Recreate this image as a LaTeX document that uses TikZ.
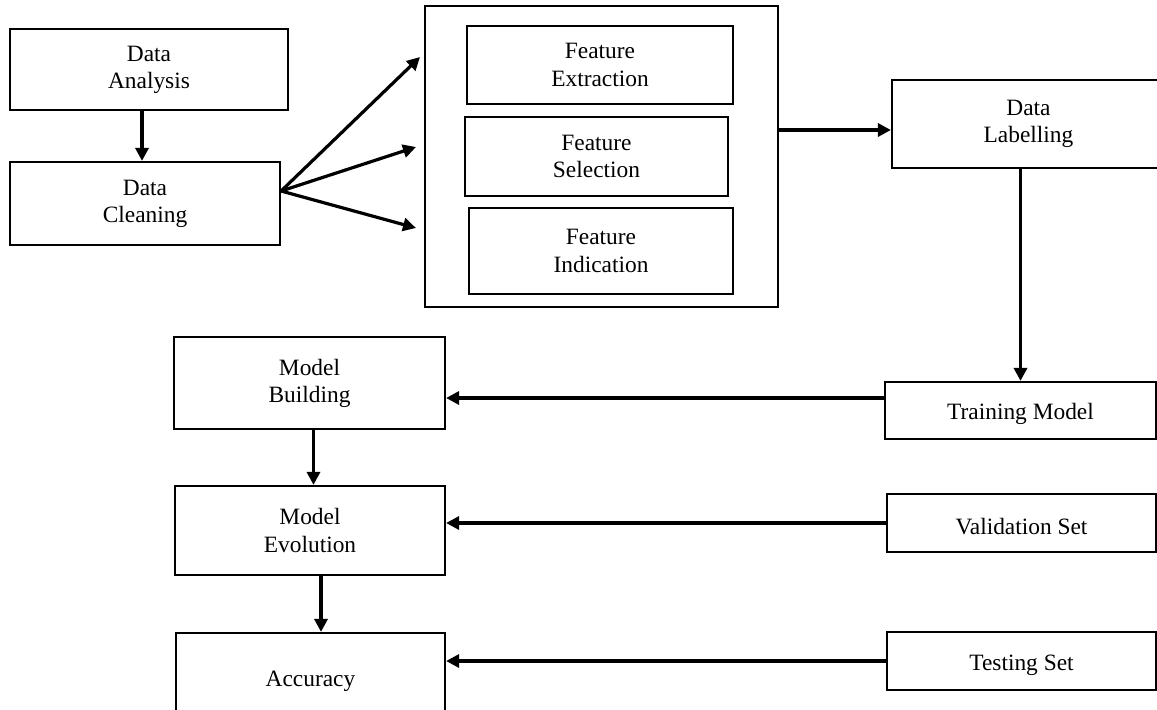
\documentclass[tikz,border=0pt]{standalone}
\usepackage{fontspec}
\setmainfont{Liberation Serif}
\usetikzlibrary{arrows.meta}
\tikzset{
  box/.style={draw, line width=1.1pt, inner sep=0pt, align=center, font=\fontsize{11.7}{13.6}\selectfont,
    execute at begin node={\rule{0pt}{12pt}}},
  arr/.style={line width=1.6pt, -{Triangle[length=6.5pt,width=6.5pt]}}
}
\begin{document}
\begin{tikzpicture}[x=0.5pt,y=-0.5pt]
\useasboundingbox (0,0) rectangle (1157,709);
\node[box, minimum width=139pt, minimum height=40.5pt] (ana) at (149,69.5) {Data\\Analysis};
\node[box, minimum width=135pt, minimum height=41.5pt] (clean) at (145,203.5) {Data\\Cleaning};
\node[box, minimum width=176.5pt, minimum height=150.5pt] (group) at (601.5,156.5) {};
\node[box, minimum width=133pt, minimum height=39pt] (fext) at (600,65) {Feature\\Extraction};
\node[box, minimum width=131.5pt, minimum height=39.5pt] (fsel) at (596.5,156.5) {Feature\\Selection};
\node[box, minimum width=132pt, minimum height=43pt] (find) at (601,251) {Feature\\Indication};
\node[box, minimum width=136.5pt, minimum height=44pt] (lab) at (1028.5,124) {Data\\Labelling};
\node[box, minimum width=135.5pt, minimum height=28.5pt] (train) at (1020.5,410.5) {Training Model};
\node[box, minimum width=134.5pt, minimum height=29pt] (valid) at (1021.5,523) {Validation Set};
\node[box, minimum width=134.5pt, minimum height=29pt] (test) at (1021.5,661) {Testing Set};
\node[box, minimum width=135.5pt, minimum height=46pt] (build) at (309.5,383) {Model\\Building};
\node[box, minimum width=135pt, minimum height=44.5pt] (evol) at (310,530.5) {Model\\Evolution};
\node[box, minimum width=134.5pt, minimum height=44pt] (acc) at (310.5,677) {Accuracy};
% fan out of cleaning
\coordinate (fan) at ([yshift=6.25pt]clean.east);
\coordinate (t1) at (420,57);
\coordinate (t2) at (416,147);
\coordinate (t3) at (416,228);
\coordinate (labin) at ([yshift=-3pt]lab.west);
\coordinate (trainout) at ([yshift=6.25pt]train.west);
\draw[arr] ([xshift=-3.5pt]ana.south) -- ([xshift=-3.5pt]ana.south |- clean.north);
\draw[arr] (fan) -- (t1);
\draw[arr] (fan) -- (t2);
\draw[arr] (fan) -- (t3);
\draw[arr] (group.east |- labin) -- (labin);
\draw[arr] (lab.south -| train.north) -- (train.north);
\draw[arr] (trainout) -- (build.east |- trainout);
\draw[arr] (valid.west) -- (valid.west -| evol.east);
\draw[arr] (test.west) -- (test.west -| acc.east);
\draw[arr] ([xshift=2pt]build.south) -- ([xshift=2pt]build.south |- evol.north);
\draw[arr] ([xshift=5.5pt]evol.south) -- ([xshift=5.5pt]evol.south |- acc.north);
\end{tikzpicture}
\end{document}
